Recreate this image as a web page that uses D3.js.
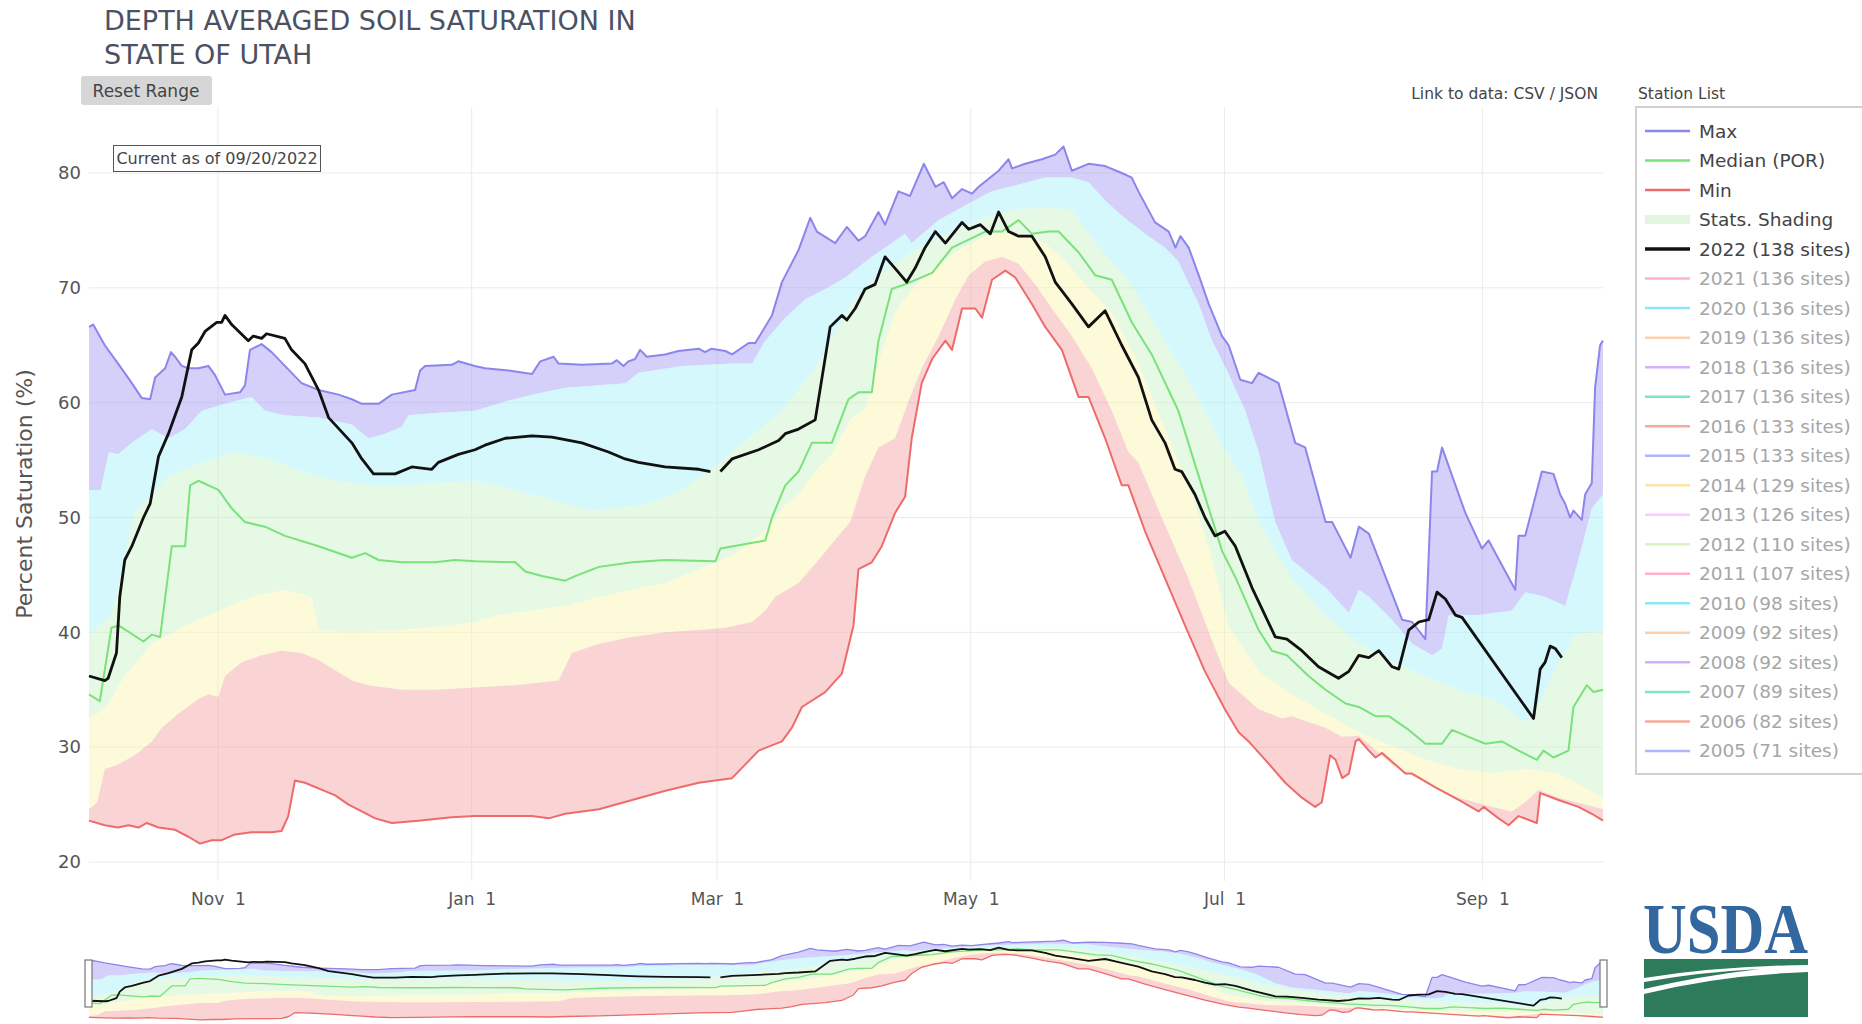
<!DOCTYPE html>
<html>
<head>
<meta charset="utf-8">
<script src="https://cdn.jsdelivr.net/npm/d3@7"></script>
<style>
body { margin: 0; background: #fff; }
</style>
</head>
<body>
<script>
// values: [days since Oct 1 2021, percent saturation]
var maxLine = [[0,66.6],[1,66.8],[3.8,65.0],[7,63.4],[10.3,61.7],[12.7,60.4],[14.7,60.3],[15.9,62.2],[18.3,63.0],[19.7,64.4],[20.7,64.0],[22.3,63.2],[23.9,63.0],[26.3,63.0],[28.7,63.2],[30.3,62.4],[32.7,60.7],[36.3,60.9],[37.5,61.5],[38.7,64.6],[41.5,65.1],[43.9,64.4],[47.1,63.2],[51.1,61.7],[55.2,61.1],[60,60.7],[63.2,60.3],[65.6,59.9],[69.6,59.9],[72.8,60.7],[78.4,61.1],[79.6,62.8],[80.8,63.2],[87.2,63.3],[88.8,63.6],[92.8,63.2],[95.2,63.0],[100.9,62.8],[106.5,62.5],[108.5,63.6],[111.7,64.0],[112.9,63.4],[118.5,63.3],[125.7,63.4],[126.9,63.7],[128.5,63.2],[129.7,63.6],[131.3,63.8],[132.5,64.6],[134.1,64.0],[138.5,64.2],[141.7,64.5],[146.6,64.7],[148.1,64.4],[149.7,64.7],[153,64.5],[154.6,64.2],[156.2,64.6],[158.6,65.2],[160.2,65.2],[164.2,67.6],[166.6,70.5],[170.6,73.3],[173.4,76.1],[175,74.9],[179.4,73.9],[182.2,75.3],[185,74.1],[186.6,74.5],[189.8,76.6],[191.4,75.5],[194.6,78.4],[197.4,78.0],[200.7,80.8],[203.5,78.8],[205.5,79.2],[207.5,77.8],[209.9,78.6],[212.3,78.2],[213.9,78.8],[218.7,80.2],[221.1,81.2],[221.9,80.4],[225.1,80.8],[229.1,81.2],[232.3,81.6],[234.3,82.3],[236.3,80.2],[240.3,80.8],[244.3,80.6],[248.3,80.0],[250.7,79.6],[252.3,78.4],[256.3,75.7],[259.6,74.9],[261.2,73.5],[262.4,74.5],[264.4,73.5],[266.8,71.1],[269.2,68.6],[272.4,65.8],[274,65.0],[276.8,62.0],[279.6,61.7],[281.2,62.6],[286,61.7],[290,56.5],[292.4,56.1],[297.3,49.6],[298.9,49.6],[303.3,46.5],[305.3,49.2],[307.7,48.6],[315.7,41.1],[318.1,40.9],[321.3,39.4],[322.9,54.0],[324.1,54.0],[325.3,56.1],[330.9,50.4],[334.9,47.3],[336.5,48.0],[342.9,43.7],[343.7,48.4],[345.3,48.4],[349.3,54.0],[352.1,53.8],[353.7,52.0],[354.9,51.2],[356.1,50.0],[356.9,50.6],[358.9,49.8],[359.7,52.0],[361.3,53.0],[362.1,61.3],[363.3,65.0],[364,65.4]];

var p90 = [[0,52.4],[2.8,52.4],[4.8,55.7],[7,55.5],[10.3,56.5],[15.1,57.7],[19.1,56.9],[23.1,57.7],[27.1,59.3],[32.7,59.9],[39.1,60.5],[42.3,59.3],[47.1,58.9],[55.2,58.7],[63.2,58.1],[67.2,56.9],[71.2,57.3],[75.2,57.9],[76.8,58.9],[83.2,59.1],[92.8,59.3],[100.1,60.1],[106.5,60.7],[114.5,61.3],[129,61.7],[132.1,62.6],[142.5,63.2],[154.6,63.4],[159.4,63.4],[162.6,65.4],[167.4,67.4],[172.2,69.0],[177,69.9],[181.8,70.9],[188.2,72.7],[196.2,74.7],[197.8,73.9],[204.3,75.9],[210.7,77.2],[217.1,78.4],[223.5,79.0],[229.9,79.6],[236.3,79.6],[240.3,79.2],[244.3,77.6],[248.3,76.3],[253.9,74.7],[258.7,73.5],[261.9,72.3],[266.8,68.6],[270,65.4],[274,62.5],[278,59.3],[281.2,55.7],[285.2,49.6],[289.2,46.3],[297.3,43.9],[302.9,41.7],[305.3,43.7],[307.7,43.1],[313.3,41.1],[318.1,39.0],[322.9,38.0],[325.3,38.6],[326.9,41.5],[334.1,41.5],[342.1,41.9],[345.3,43.5],[350.1,43.1],[354.9,42.3],[358.1,46.3],[361.3,50.8],[364,52.0]];

var p70 = [[0,39.8],[5.4,41.5],[11,50.4],[19.1,53.6],[27.1,54.8],[35.1,55.7],[43.1,55.1],[51.1,54.0],[59.2,53.2],[67.2,52.8],[75.2,52.8],[83.2,53.0],[92.8,53.2],[98.5,52.8],[106.5,52.0],[114.5,51.2],[120.9,50.6],[126.5,50.8],[134.5,51.2],[142.5,52.4],[150.5,54.4],[158.6,56.9],[166.6,59.3],[174.6,63.0],[180.2,66.6],[184.2,69.0],[189.8,71.1],[197.8,73.1],[205.9,74.7],[213.9,75.9],[221.9,76.8],[229.9,77.0],[236.3,76.8],[241.9,73.9],[249.9,70.7],[257.9,65.8],[265.9,60.9],[272,56.5],[277.2,53.6],[281.2,49.6],[289.2,44.7],[297.3,41.5],[305.3,39.0],[313.3,37.4],[321.3,36.2],[329.3,35.0],[337.4,34.2],[345.4,32.1],[349.3,34.2],[353.3,37.4],[357.3,39.8],[364,40.2]];

var medianLine = [[0,34.6],[2.6,34.0],[5.4,40.4],[7.1,40.6],[13.1,39.2],[15.1,39.8],[17.1,39.6],[19.9,47.5],[23.1,47.5],[24.3,52.8],[26.3,53.2],[31.1,52.4],[34.3,50.8],[37.5,49.6],[42.3,49.2],[47.1,48.4],[55.2,47.5],[63.2,46.5],[66.4,46.9],[69.6,46.3],[75.2,46.1],[83.2,46.1],[88,46.3],[92.8,46.2],[102.5,46.1],[104.9,45.3],[108.9,44.9],[114.5,44.5],[116.9,44.9],[122.6,45.7],[130.6,46.1],[138.6,46.3],[150.6,46.2],[151.8,47.3],[162.6,48.0],[164.2,50.0],[167.4,52.8],[170.6,54.0],[173.8,56.5],[178.6,56.5],[182.6,60.3],[185,60.9],[188.2,60.9],[189.8,65.4],[193,69.9],[196.2,70.3],[202.7,71.3],[207.5,73.5],[215.5,74.9],[219.5,74.9],[223.5,75.9],[226.7,74.7],[230.7,74.9],[233.1,74.9],[237.9,73.1],[241.9,71.1],[245.9,70.7],[250.7,67.0],[255.5,64.2],[261.9,59.3],[266.8,53.6],[272.4,47.1],[275.6,44.8],[277.2,43.5],[281.2,40.2],[284.4,38.4],[288,38.0],[293.2,36.2],[297.3,35.0],[302.1,33.8],[305.3,33.5],[309.3,32.7],[312.5,32.7],[317.3,31.5],[321.3,30.3],[325.3,30.3],[327.7,31.5],[331.7,30.9],[335.7,30.3],[339.7,30.5],[343.7,29.7],[348.1,28.9],[349.7,29.7],[352.1,29.1],[355.7,29.7],[356.9,33.5],[360.1,35.4],[361.7,34.8],[364,35.0]];

var p30 = [[0,32.5],[3.8,33.3],[8.6,36.2],[15.1,39.0],[23.1,40.6],[32.7,42.1],[39.1,43.1],[47.1,43.7],[53.5,43.1],[55.2,40.2],[63.2,40.0],[75.2,40.2],[87.2,40.6],[92.8,40.9],[98.5,41.5],[106.5,41.9],[114.5,42.3],[122.6,43.1],[130.6,43.7],[138.6,44.3],[146.6,45.5],[154.6,46.7],[162.6,48.8],[166.6,50.8],[170.6,52.0],[174.6,54.0],[178.6,55.5],[183,58.5],[186.6,59.5],[189.8,63.5],[193.8,67.8],[197.8,69.9],[203.5,71.9],[209.9,73.5],[215.5,74.5],[220.3,74.9],[225.1,74.5],[229.9,73.9],[234.7,72.3],[239.5,70.3],[245.9,67.8],[252.3,63.4],[258.7,57.7],[265.1,52.0],[269.9,46.5],[274,40.5],[281.2,36.6],[289.2,34.6],[297.3,32.9],[305.3,31.3],[313.3,30.1],[321.3,28.9],[329.3,28.1],[337.4,27.7],[345.3,28.1],[353.3,27.7],[364,25.6]];

var p10 = [[0,24.6],[2,25.2],[3.8,28.1],[7,28.5],[11,29.3],[15.1,30.5],[17.5,31.7],[21.5,32.9],[26.3,34.2],[28.7,34.6],[31.1,34.4],[32.7,36.2],[36.7,37.4],[41.5,38.0],[46.3,38.4],[51.1,38.2],[55.2,37.6],[63.2,35.8],[67.2,35.4],[75.2,35.0],[83.2,35.0],[92.8,35.2],[102.5,35.4],[112.9,35.8],[116.1,38.2],[122.6,39.0],[130.6,39.6],[138.6,40.0],[146.6,40.2],[152.9,40.4],[159.4,40.9],[162.6,41.9],[165,43.1],[170.6,44.3],[175.4,46.3],[180.2,48.4],[183,49.6],[186.6,53.6],[189.8,56.1],[193.8,56.9],[197,60.1],[200.2,63.0],[204.3,65.8],[208.3,69.0],[211.5,71.1],[215.5,72.3],[219.5,72.7],[223.5,72.1],[227.5,70.3],[231.5,68.2],[236.3,65.8],[241.1,63.0],[245.9,59.3],[249.9,55.7],[252.3,54.8],[257.9,50.0],[264.3,44.7],[269.9,39.4],[274,35.6],[281.2,33.3],[286.8,32.5],[289.2,32.7],[297.3,31.7],[301.3,30.9],[305.3,31.0],[313.3,28.5],[321.3,26.9],[329.3,25.6],[337.4,24.8],[342.1,24.4],[345.3,25.2],[348.5,26.3],[353.3,25.6],[359.7,25.0],[364,24.6]];

var minLine = [[0,23.6],[3.8,23.2],[7,23.0],[9.5,23.2],[11.9,23.0],[13.9,23.4],[16.7,23.0],[20.7,22.8],[23.9,22.2],[26.7,21.6],[29.5,21.9],[31.9,21.9],[35.1,22.4],[39.1,22.6],[43.9,22.6],[46.3,22.7],[47.9,24.0],[49.5,27.1],[51.9,26.9],[59.2,25.8],[62.4,25.0],[65.6,24.4],[68.8,23.8],[72.8,23.4],[79.2,23.6],[87.2,23.9],[92.8,24.0],[98.5,24.0],[106.5,24.0],[110.5,23.8],[114.5,24.2],[122.6,24.6],[130.6,25.4],[138.6,26.2],[146.6,26.9],[154.6,27.3],[157.8,28.5],[161,29.7],[166.6,30.5],[169,31.7],[171.4,33.5],[177,34.8],[181,36.4],[183.8,40.6],[185,45.5],[188.2,46.1],[190.6,47.5],[193.8,50.4],[196.2,51.8],[197.8,56.9],[200.2,61.7],[202.7,63.8],[205.9,65.4],[207.5,64.6],[209.9,68.2],[213.1,68.2],[214.7,67.4],[217.1,70.7],[218.7,71.1],[220.3,71.5],[222.7,70.9],[226.7,68.6],[229.9,66.6],[233.9,64.6],[237.9,60.5],[240.3,60.5],[244.3,56.9],[248.3,52.8],[249.9,52.8],[253.9,48.8],[258.7,44.7],[263.5,40.6],[268.3,36.6],[273.1,33.3],[276.4,31.3],[278.8,30.5],[282.8,28.9],[287.6,26.9],[291.6,25.6],[294.8,24.8],[296.4,25.2],[298.4,29.3],[299.7,28.9],[301.3,27.3],[302.9,27.7],[304.5,30.5],[305.3,30.7],[307.7,29.7],[309.3,29.1],[310.9,29.5],[316.5,27.7],[318.1,27.7],[323.7,26.5],[329.3,25.4],[334.1,24.4],[335.3,24.8],[338.9,23.8],[341.3,23.2],[343.7,24.0],[348.1,23.4],[348.9,26.0],[353.3,25.4],[358.1,24.8],[361.3,24.2],[364,23.6]];

// water year 2022, null = missing day
var wy2022 = [[0,36.2],[3.8,35.8],[4.6,36.0],[6.6,38.2],[7.4,43.1],[8.6,46.3],[10.3,47.5],[13.1,50.0],[14.7,51.2],[16.7,55.3],[19.1,57.3],[22.3,60.5],[24.7,64.6],[26.3,65.2],[27.9,66.2],[30.7,67.0],[31.9,67.0],[32.7,67.6],[34.3,66.8],[38.3,65.4],[39.5,65.8],[41.5,65.6],[42.7,66.0],[47.1,65.6],[48.7,64.6],[51.9,63.4],[55.2,61.1],[57.6,58.7],[63.2,56.5],[65.6,55.1],[68.4,53.8],[73.6,53.8],[77.6,54.4],[82.4,54.2],[84,54.8],[88.8,55.5],[92.8,55.9],[95.2,56.3],[100.1,56.9],[106.5,57.1],[111.3,57.0],[118.5,56.5],[124.9,55.7],[128.9,55.1],[132.1,54.8],[138.5,54.4],[146.6,54.2],[149.4,54.0],[150.6,null],[151.8,54.0],[154.6,55.1],[161,55.9],[165.8,56.7],[167.4,57.3],[170.6,57.7],[174.6,58.5],[178.2,66.6],[181,67.6],[182.2,67.2],[184.2,68.2],[186.6,69.9],[189,70.3],[191.4,72.7],[193.8,71.7],[196.6,70.5],[198.6,71.7],[201,73.5],[203.5,74.9],[205.9,73.9],[209.9,75.7],[211.5,75.1],[214.3,75.5],[216.7,74.7],[218.7,76.6],[221.1,74.9],[223.5,74.5],[226.7,74.5],[229.9,72.7],[232.3,70.5],[236.3,68.6],[240.3,66.6],[244.3,68.0],[248.3,65.0],[252.3,62.2],[255.5,58.5],[258.7,56.5],[261.1,54.2],[262.7,54.0],[265.9,52.0],[268.3,50.0],[270.7,48.4],[273.1,48.8],[275.6,47.5],[279.6,43.9],[285.2,39.6],[288,39.4],[291.6,38.4],[295.6,37.0],[300.4,36.0],[302.9,36.6],[305.3,38.0],[307.7,37.8],[310.1,38.4],[313.3,37.0],[314.9,36.8],[317.3,40.2],[319.7,40.9],[322.1,41.1],[324.1,43.5],[326.1,42.9],[328.5,41.5],[330.1,41.3],[347.3,32.5],[348.9,36.8],[350.1,37.4],[351.3,38.8],[352.5,38.6],[354.1,37.8]];

var yTicks = [20, 30, 40, 50, 60, 70, 80];
var xTickDates = ["2021-11-01", "2022-01-01", "2022-03-01", "2022-05-01", "2022-07-01", "2022-09-01"];
var xTickLabels = ["Nov  1", "Jan  1", "Mar  1", "May  1", "Jul  1", "Sep  1"];

var legendNames = ["Max", "Median (POR)", "Min", "Stats. Shading", "2022 (138 sites)",
  "2021 (136 sites)", "2020 (136 sites)", "2019 (136 sites)", "2018 (136 sites)", "2017 (136 sites)",
  "2016 (133 sites)", "2015 (133 sites)", "2014 (129 sites)", "2013 (126 sites)", "2012 (110 sites)",
  "2011 (107 sites)", "2010 (98 sites)", "2009 (92 sites)", "2008 (92 sites)", "2007 (89 sites)",
  "2006 (82 sites)", "2005 (71 sites)"];
var legendColors = ["#8b85ec", "#79e27a", "#ee6b6b", "#e2f6df", "#111111",
  "#FF6692", "#19d3f3", "#FFA15A", "#ab63fa", "#00cc96", "#EF553B", "#636efa", "#FECB52",
  "#FF97FF", "#B6E880", "#FF6692", "#19d3f3", "#FFA15A", "#ab63fa", "#00cc96", "#EF553B", "#636efa"];

var width = 1862;
var height = 1024;
var sans = '"DejaVu Sans", Verdana, sans-serif';

var svg = d3.select('body').append('svg')
    .attr('width', width)
    .attr('height', height)
    .style('font-family', sans);

var start = Date.UTC(2021, 9, 1);
function toDate(d) { return new Date(start + d * 864e5); }

var plotLeft = 89, plotRight = 1603, plotTop = 107, plotBottom = 881;

var x = d3.scaleUtc()
    .domain([toDate(0), toDate(364)])
    .range([plotLeft, plotRight]);

var y = d3.scaleLinear()
    .domain([20, 80])
    .range([862, 173]);

// range slider at the bottom uses the same x
var ySlide = d3.scaleLinear()
    .domain([20, 84])
    .range([1022, 938]);

// grid
svg.append('g')
    .selectAll('line')
    .data(yTicks)
    .enter().append('line')
    .attr('x1', plotLeft).attr('x2', plotRight)
    .attr('y1', function(d) { return y(d); })
    .attr('y2', function(d) { return y(d); })
    .attr('stroke', '#ebebeb');

var tickDates = xTickDates.map(function(s) { return new Date(s + 'T00:00:00Z'); });

svg.append('g')
    .selectAll('line')
    .data(tickDates)
    .enter().append('line')
    .attr('x1', function(d) { return x(d); })
    .attr('x2', function(d) { return x(d); })
    .attr('y1', plotTop).attr('y2', plotBottom)
    .attr('stroke', '#ebebeb');

function band(g, yScale, upper, lower, color) {
    var line = d3.line()
        .x(function(d) { return x(toDate(d[0])); })
        .y(function(d) { return yScale(d[1]); });
    var pts = upper.concat(lower.slice().reverse());
    g.append('path')
        .attr('d', line(pts) + 'Z')
        .attr('fill', color)
        .attr('stroke', 'none');
}

function series(g, yScale, data, color, w) {
    var line = d3.line()
        .defined(function(d) { return d[1] !== null; })
        .x(function(d) { return x(toDate(d[0])); })
        .y(function(d) { return yScale(d[1]); });
    g.append('path')
        .attr('d', line(data))
        .attr('fill', 'none')
        .attr('stroke', color)
        .attr('stroke-width', w)
        .attr('stroke-linejoin', 'round');
}

function drawStats(g, yScale, thin) {
    band(g, yScale, maxLine, p90, 'rgba(160,150,245,0.45)');
    band(g, yScale, p90, p70, 'rgba(160,240,248,0.45)');
    band(g, yScale, p70, p30, 'rgba(200,242,196,0.45)');
    band(g, yScale, p30, p10, 'rgba(250,244,170,0.45)');
    band(g, yScale, p10, minLine, 'rgba(244,160,162,0.45)');
    series(g, yScale, maxLine, '#8b85ec', thin ? 1.3 : 2);
    series(g, yScale, minLine, '#ee6b6b', thin ? 1.3 : 2);
    series(g, yScale, medianLine, '#79e27a', thin ? 1.3 : 2);
    series(g, yScale, wy2022, '#111111', thin ? 1.8 : 2.8);
}

drawStats(svg.append('g'), y, false);
drawStats(svg.append('g'), ySlide, true);

// slider handles
[plotLeft - 4, plotRight - 3].forEach(function(hx) {
    svg.append('rect')
        .attr('x', hx).attr('y', 960)
        .attr('width', 7).attr('height', 47)
        .attr('fill', '#fff')
        .attr('stroke', '#777')
        .attr('stroke-width', 1.2);
});

// axes
var yAxis = d3.axisLeft(y).tickValues(yTicks).tickSize(0).tickPadding(8);
var gy = svg.append('g').attr('transform', 'translate(' + plotLeft + ',0)').call(yAxis);
gy.select('.domain').remove();
gy.selectAll('text')
    .style('font-family', sans)
    .style('font-size', '18px')
    .attr('fill', '#555');

var xAxis = d3.axisBottom(x).tickValues(tickDates)
    .tickFormat(function(d, i) { return xTickLabels[i]; })
    .tickSize(0).tickPadding(12);
var gx = svg.append('g').attr('transform', 'translate(0,' + plotBottom + ')').call(xAxis);
gx.select('.domain').remove();
gx.selectAll('text')
    .style('font-family', sans)
    .style('font-size', '17px')
    .style('white-space', 'pre')
    .attr('fill', '#555');

svg.append('text')
    .attr('transform', 'translate(32,494) rotate(-90)')
    .attr('text-anchor', 'middle')
    .style('font-size', '22px')
    .attr('fill', '#555')
    .text('Percent Saturation (%)');

// title
var title = svg.append('text')
    .style('font-family', sans)
    .style('font-size', '27px')
    .attr('fill', '#4b5163');
title.append('tspan').attr('x', 104).attr('y', 30).text('DEPTH AVERAGED SOIL SATURATION IN');
title.append('tspan').attr('x', 104).attr('y', 64).text('STATE OF UTAH');

// reset button
svg.append('rect')
    .attr('x', 81).attr('y', 76).attr('width', 131).attr('height', 29)
    .attr('rx', 3).attr('fill', '#d6d6d6');
svg.append('text')
    .attr('x', 146).attr('y', 97)
    .attr('text-anchor', 'middle')
    .style('font-size', '17px')
    .attr('fill', '#444')
    .text('Reset Range');

// current-as-of box
svg.append('rect')
    .attr('x', 113.5).attr('y', 145.5).attr('width', 207).attr('height', 26)
    .attr('fill', '#fff').attr('stroke', '#555').attr('stroke-width', 1);
svg.append('text')
    .attr('x', 217).attr('y', 164)
    .attr('text-anchor', 'middle')
    .style('font-size', '16px')
    .attr('fill', '#444')
    .text('Current as of 09/20/2022');

svg.append('text')
    .attr('x', 1598).attr('y', 99)
    .attr('text-anchor', 'end')
    .style('font-size', '15.5px')
    .attr('fill', '#444')
    .text('Link to data: CSV / JSON');

svg.append('text')
    .attr('x', 1638).attr('y', 99)
    .style('font-size', '15.5px')
    .attr('fill', '#444')
    .text('Station List');

// legend
svg.append('rect')
    .attr('x', 1636).attr('y', 107).attr('width', 240).attr('height', 667)
    .attr('fill', '#fff').attr('stroke', '#d0d0d0').attr('stroke-width', 2);

var lg = svg.append('g');
legendNames.forEach(function(name, i) {
    var ly = 131 + i * 29.52;
    var active = i < 5;
    lg.append('line')
        .attr('x1', 1645).attr('x2', 1690)
        .attr('y1', ly).attr('y2', ly)
        .attr('stroke', legendColors[i])
        .attr('stroke-width', i === 3 ? 9 : (i === 4 ? 3.5 : 2.5))
        .attr('opacity', active ? 1 : 0.5);
    lg.append('text')
        .attr('x', 1699).attr('y', ly + 6.5)
        .style('font-size', '18.5px')
        .attr('fill', active ? '#444' : '#a6a6a6')
        .text(name);
});

// USDA logo
var logo = svg.append('g');
logo.append('text')
    .attr('x', 1643).attr('y', 953)
    .style('font-family', '"Liberation Serif", "DejaVu Serif", serif')
    .style('font-size', '72px')
    .style('font-weight', 'bold')
    .attr('textLength', 165)
    .attr('lengthAdjust', 'spacingAndGlyphs')
    .attr('fill', '#33679f')
    .text('USDA');
logo.append('path')
    .attr('d', 'M1644,959 L1808,959 L1808,965 Q1720,966 1644,978 Z')
    .attr('fill', '#2e7b5c');
logo.append('path')
    .attr('d', 'M1644,982 Q1700,972 1760,969 Q1700,976 1644,989 Z')
    .attr('fill', '#2e7b5c');
logo.append('path')
    .attr('d', 'M1644,994 Q1720,975 1808,972 L1808,1017 L1644,1017 Z')
    .attr('fill', '#2e7b5c');
</script>
</body>
</html>
